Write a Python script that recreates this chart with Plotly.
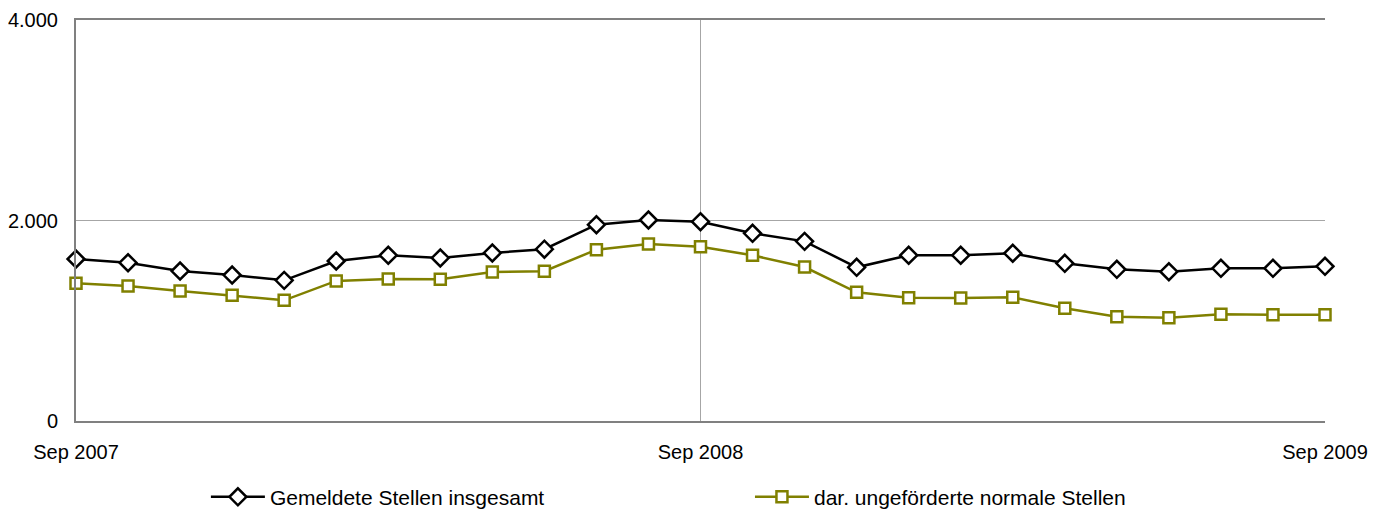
import plotly.graph_objects as go

months = list(range(25))
tick_positions = [0, 12, 24]
tick_labels = ["Sep 2007", "Sep 2008", "Sep 2009"]

gemeldete = [1616, 1579, 1496, 1456, 1403, 1596, 1653, 1626, 1676, 1714,
             1958, 2005, 1988, 1872, 1792, 1533, 1653, 1653, 1673, 1573,
             1513, 1489, 1523, 1523, 1543]
ungefoerdert = [1374, 1347, 1297, 1254, 1204, 1397, 1416, 1413, 1486, 1494,
                1709, 1766, 1739, 1653, 1536, 1284, 1230, 1227, 1234, 1124,
                1040, 1030, 1064, 1060, 1060]

fig = go.Figure()
fig.add_trace(go.Scatter(
    x=months, y=gemeldete, mode="lines+markers",
    name="Gemeldete Stellen insgesamt",
    line=dict(color="black", width=2.5),
    marker=dict(symbol="diamond", size=13, color="white",
                line=dict(color="black", width=2.5)),
    cliponaxis=False, legend="legend",
))
fig.add_trace(go.Scatter(
    x=months, y=ungefoerdert, mode="lines+markers",
    name="dar. ungeförderte normale Stellen",
    line=dict(color="#808000", width=2.5),
    marker=dict(symbol="square", size=11, color="white",
                line=dict(color="#808000", width=2.5)),
    cliponaxis=False, legend="legend2",
))

legend_common = dict(orientation="h", xanchor="left", y=-0.19, yanchor="middle",
                     itemwidth=54, font=dict(size=21), bgcolor="rgba(0,0,0,0)")
fig.update_layout(
    width=1377, height=503,
    margin=dict(l=68, r=60, t=12, b=90, autoexpand=False),
    plot_bgcolor="white", paper_bgcolor="white",
    font=dict(family="Liberation Sans, Arial, sans-serif", size=20, color="black"),
    showlegend=True,
    legend=dict(x=0.104, **legend_common),
    legend2=dict(x=0.5396, **legend_common),
)
fig.update_xaxes(
    range=[0, 24], tickvals=tick_positions, ticktext=tick_labels,
    showgrid=True, gridcolor="#a6a6a6", gridwidth=1,
    showline=True, linecolor="#808080", linewidth=2, mirror=True,
    ticks="", ticklabelstandoff=12, zeroline=False, automargin=False,
)
fig.update_yaxes(
    range=[0, 4000], tickvals=[0, 2000, 4000], ticktext=["0", "2.000", "4.000"],
    showgrid=True, gridcolor="#a6a6a6", gridwidth=1,
    showline=True, linecolor="#808080", linewidth=2,
    ticks="", ticklabelstandoff=12, zeroline=False, automargin=False,
)

fig.write_html("out.html")
